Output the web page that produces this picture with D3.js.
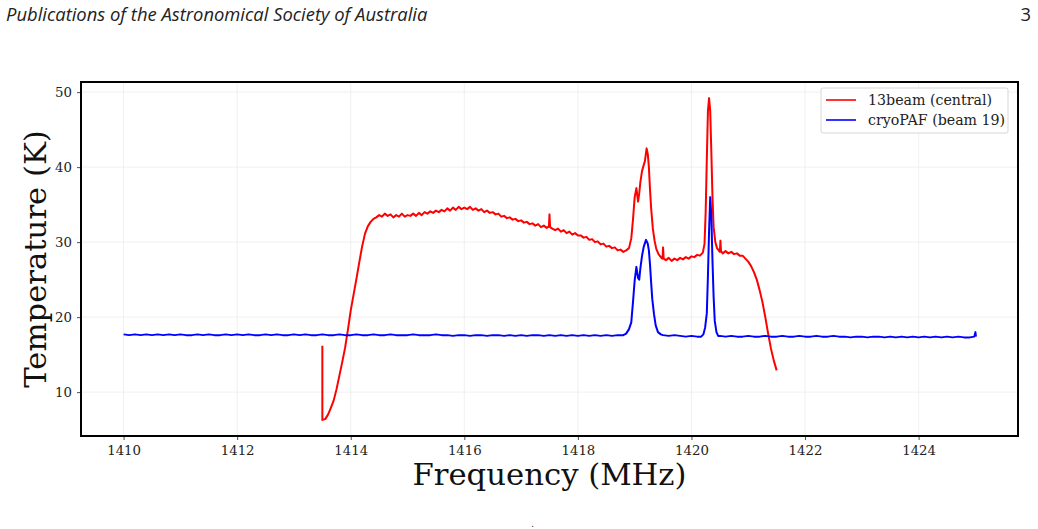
<!doctype html>
<html lang="en">

<head>
    <title>Spectrum - 13beam vs cryoPAF</title>
    <meta charset="utf-8" />
    <script src="https://d3js.org/d3.v7.min.js"></script>
    <style>
        body {
            margin: 0;
            padding: 0;
            background: white;
        }

        svg text {
            font-family: 'DejaVu Serif', serif;
        }

        .header {
            font-family: 'Open Sans', sans-serif !important;
            font-size: 18.4px;
            fill: #222;
        }
    </style>
</head>

<body>
    <div id="chart"></div>

    <script>
        // Ticks del gráfico
        const xTicks = [1410, 1412, 1414, 1416, 1418, 1420, 1422, 1424];
        const yTicks = [10, 20, 30, 40, 50];

        // Serie roja: 13beam (central) [frecuencia MHz, temperatura K]
        const beam13 = [
            [1413.50, 16.2], [1413.50, 6.3], [1413.55, 6.4], [1413.60, 7.0], [1413.65, 7.9],
            [1413.70, 8.9], [1413.75, 10.4], [1413.80, 12.2], [1413.85, 14.0], [1413.90, 15.9],
            [1413.95, 18.3], [1414.00, 20.9], [1414.05, 23.0], [1414.10, 25.1], [1414.15, 27.3],
            [1414.20, 29.4], [1414.25, 31.1], [1414.30, 32.1], [1414.35, 32.7], [1414.40, 33.1],
            [1414.45, 33.3], [1414.50, 33.6], [1414.55, 33.4], [1414.60, 33.8], [1414.65, 33.5],
            [1414.70, 33.7], [1414.75, 33.3], [1414.80, 33.6], [1414.85, 33.4], [1414.90, 33.8],
            [1414.95, 33.4], [1415.00, 33.6], [1415.05, 33.5], [1415.10, 33.8], [1415.15, 33.5],
            [1415.20, 33.9], [1415.25, 33.6], [1415.30, 34.0], [1415.35, 33.8], [1415.40, 34.1],
            [1415.45, 33.9], [1415.50, 34.2], [1415.55, 34.0], [1415.60, 34.3], [1415.65, 34.1],
            [1415.70, 34.5], [1415.75, 34.2], [1415.80, 34.6], [1415.85, 34.3], [1415.90, 34.7],
            [1415.95, 34.4], [1416.00, 34.6], [1416.05, 34.4], [1416.10, 34.7], [1416.15, 34.3],
            [1416.20, 34.5], [1416.25, 34.2], [1416.30, 34.4], [1416.35, 34.0], [1416.40, 34.2],
            [1416.45, 33.9], [1416.50, 34.0], [1416.55, 33.7], [1416.60, 33.8], [1416.65, 33.4],
            [1416.70, 33.5], [1416.75, 33.2], [1416.80, 33.3], [1416.85, 33.0], [1416.90, 33.1],
            [1416.95, 32.8], [1417.00, 32.9], [1417.05, 32.6], [1417.10, 32.7], [1417.15, 32.4],
            [1417.20, 32.5], [1417.25, 32.2], [1417.30, 32.4], [1417.35, 32.0], [1417.40, 32.2],
            [1417.45, 31.9], [1417.49, 32.1], [1417.50, 33.7], [1417.51, 32.0], [1417.55, 31.8],
            [1417.60, 31.6], [1417.65, 31.8], [1417.70, 31.4], [1417.75, 31.6], [1417.80, 31.2],
            [1417.85, 31.4], [1417.90, 31.0], [1417.95, 31.2], [1418.00, 30.9], [1418.05, 30.9],
            [1418.10, 30.6], [1418.15, 30.7], [1418.20, 30.3], [1418.25, 30.4], [1418.30, 30.0],
            [1418.35, 30.1], [1418.40, 29.7], [1418.45, 29.8], [1418.50, 29.4], [1418.55, 29.5],
            [1418.60, 29.2], [1418.65, 29.3], [1418.70, 28.9], [1418.75, 29.0], [1418.80, 28.7],
            [1418.85, 28.9], [1418.90, 29.2], [1418.94, 30.5], [1418.97, 33.0], [1419.00, 36.0],
            [1419.03, 37.2], [1419.06, 35.4], [1419.08, 36.5], [1419.10, 38.0], [1419.13, 39.5],
            [1419.16, 40.3], [1419.18, 40.8], [1419.21, 42.5], [1419.23, 41.8], [1419.25, 40.0],
            [1419.27, 37.0], [1419.29, 34.5], [1419.32, 31.8], [1419.35, 30.2], [1419.38, 29.1],
            [1419.42, 28.4], [1419.46, 28.0], [1419.49, 27.8], [1419.50, 29.3], [1419.51, 27.8],
            [1419.55, 27.6], [1419.60, 27.9], [1419.65, 27.5], [1419.70, 27.8], [1419.75, 27.6],
            [1419.80, 27.9], [1419.85, 27.7], [1419.90, 28.0], [1419.95, 27.8], [1420.00, 28.1],
            [1420.05, 28.0], [1420.10, 28.3], [1420.15, 28.2], [1420.20, 28.6], [1420.23, 29.8],
            [1420.25, 34.0], [1420.27, 41.0], [1420.29, 47.5], [1420.31, 49.2], [1420.33, 47.5],
            [1420.35, 42.0], [1420.37, 36.0], [1420.39, 32.0], [1420.42, 30.0], [1420.45, 29.2],
            [1420.48, 28.9], [1420.50, 28.7], [1420.51, 30.2], [1420.52, 28.8], [1420.55, 28.5],
            [1420.60, 28.8], [1420.65, 28.5], [1420.70, 28.7], [1420.75, 28.4], [1420.80, 28.5],
            [1420.85, 28.2], [1420.90, 28.2], [1420.95, 27.8], [1421.00, 27.4], [1421.05, 26.8],
            [1421.10, 26.0], [1421.15, 25.0], [1421.20, 23.6], [1421.25, 22.0], [1421.30, 20.0],
            [1421.35, 17.8], [1421.40, 15.8], [1421.45, 14.2], [1421.50, 12.9]
        ];

        // Serie azul: cryoPAF (beam 19)
        const cryoPAF = [
            [1410.0, 17.7], [1410.1, 17.6], [1410.2, 17.7], [1410.3, 17.6], [1410.4, 17.7],
            [1410.5, 17.6], [1410.6, 17.7], [1410.7, 17.6], [1410.8, 17.7], [1410.9, 17.6],
            [1411.0, 17.7], [1411.1, 17.6], [1411.2, 17.6], [1411.3, 17.7], [1411.4, 17.6],
            [1411.5, 17.7], [1411.6, 17.6], [1411.7, 17.6], [1411.8, 17.7], [1411.9, 17.6],
            [1412.0, 17.7], [1412.1, 17.6], [1412.2, 17.7], [1412.3, 17.6], [1412.4, 17.6],
            [1412.5, 17.7], [1412.6, 17.6], [1412.7, 17.7], [1412.8, 17.6], [1412.9, 17.6],
            [1413.0, 17.7], [1413.1, 17.6], [1413.2, 17.7], [1413.3, 17.6], [1413.4, 17.6],
            [1413.5, 17.7], [1413.6, 17.6], [1413.7, 17.6], [1413.8, 17.7], [1413.9, 17.6],
            [1414.0, 17.6], [1414.1, 17.7], [1414.2, 17.6], [1414.3, 17.6], [1414.4, 17.7],
            [1414.5, 17.6], [1414.6, 17.6], [1414.7, 17.7], [1414.8, 17.6], [1414.9, 17.6],
            [1415.0, 17.6], [1415.1, 17.7], [1415.2, 17.6], [1415.3, 17.6], [1415.4, 17.6],
            [1415.5, 17.7], [1415.6, 17.6], [1415.7, 17.6], [1415.8, 17.5], [1415.9, 17.6],
            [1416.0, 17.6], [1416.1, 17.5], [1416.2, 17.6], [1416.3, 17.6], [1416.4, 17.5],
            [1416.5, 17.6], [1416.6, 17.6], [1416.7, 17.5], [1416.8, 17.6], [1416.9, 17.5],
            [1417.0, 17.6], [1417.1, 17.5], [1417.2, 17.6], [1417.3, 17.6], [1417.4, 17.5],
            [1417.5, 17.6], [1417.6, 17.5], [1417.7, 17.6], [1417.8, 17.5], [1417.9, 17.6],
            [1418.0, 17.5], [1418.1, 17.6], [1418.2, 17.5], [1418.3, 17.6], [1418.4, 17.5],
            [1418.5, 17.6], [1418.6, 17.5], [1418.7, 17.6], [1418.8, 17.6], [1418.85, 17.8],
            [1418.90, 18.4], [1418.94, 19.3], [1418.97, 22.0], [1419.00, 24.9], [1419.03, 26.7],
            [1419.06, 25.2], [1419.08, 25.0], [1419.10, 26.5], [1419.13, 28.2], [1419.16, 29.4],
            [1419.20, 30.3], [1419.23, 29.8], [1419.25, 28.9], [1419.27, 27.0], [1419.29, 24.6],
            [1419.31, 22.4], [1419.34, 20.4], [1419.37, 18.9], [1419.41, 18.0], [1419.46, 17.7],
            [1419.5, 17.6], [1419.6, 17.5], [1419.7, 17.6], [1419.8, 17.5], [1419.9, 17.4],
            [1420.0, 17.5], [1420.1, 17.4], [1420.17, 17.4], [1420.21, 17.7], [1420.24, 18.6],
            [1420.27, 20.5], [1420.29, 25.5], [1420.31, 31.5], [1420.33, 36.0], [1420.35, 33.5],
            [1420.37, 27.5], [1420.39, 22.7], [1420.41, 19.5], [1420.44, 18.0], [1420.47, 17.5],
            [1420.5, 17.5], [1420.6, 17.4], [1420.7, 17.5], [1420.8, 17.4], [1420.9, 17.4],
            [1421.0, 17.5], [1421.1, 17.4], [1421.2, 17.4], [1421.3, 17.5], [1421.4, 17.4],
            [1421.5, 17.4], [1421.6, 17.5], [1421.7, 17.4], [1421.8, 17.4], [1421.9, 17.5],
            [1422.0, 17.4], [1422.1, 17.4], [1422.2, 17.5], [1422.3, 17.4], [1422.4, 17.4],
            [1422.5, 17.5], [1422.6, 17.4], [1422.7, 17.4], [1422.8, 17.3], [1422.9, 17.4],
            [1423.0, 17.4], [1423.1, 17.3], [1423.2, 17.4], [1423.3, 17.4], [1423.4, 17.3],
            [1423.5, 17.4], [1423.6, 17.3], [1423.7, 17.4], [1423.8, 17.3], [1423.9, 17.4],
            [1424.0, 17.3], [1424.1, 17.4], [1424.2, 17.3], [1424.3, 17.4], [1424.4, 17.3],
            [1424.5, 17.4], [1424.6, 17.3], [1424.7, 17.4], [1424.8, 17.3], [1424.9, 17.3],
            [1424.98, 17.4], [1425.0, 18.0], [1425.01, 17.4]
        ];

        const series = [
            { name: '13beam (central)', color: '#ff0000', data: beam13 },
            { name: 'cryoPAF (beam 19)', color: '#0000ff', data: cryoPAF }
        ];

        const width = 1038, height = 529;
        const margin = { top: 82, right: 20, bottom: 93, left: 81 };
        const plotW = width - margin.left - margin.right;
        const plotH = height - margin.top - margin.bottom;

        const svg = d3.select('#chart')
            .append('svg')
            .attr('width', width)
            .attr('height', height);

        // Encabezado de la página
        svg.append('text')
            .attr('class', 'header')
            .attr('x', 6)
            .attr('y', 21)
            .style('font-style', 'italic')
            .text('Publications of the Astronomical Society of Australia');

        svg.append('text')
            .attr('class', 'header')
            .attr('x', 1031)
            .attr('y', 21)
            .attr('text-anchor', 'end')
            .text('3');

        const g = svg.append('g')
            .attr('transform', `translate(${margin.left},${margin.top})`);

        // Escalas
        const x = d3.scaleLinear().domain([1409.25, 1425.75]).range([0, plotW]);
        const y = d3.scaleLinear().domain([4.15, 51.35]).range([plotH, 0]);

        // Rejilla
        g.append('g')
            .selectAll('line')
            .data(xTicks)
            .join('line')
            .attr('x1', d => x(d)).attr('x2', d => x(d))
            .attr('y1', 0).attr('y2', plotH)
            .attr('stroke', '#ececec')
            .attr('stroke-width', 0.8);

        g.append('g')
            .selectAll('line')
            .data(yTicks)
            .join('line')
            .attr('y1', d => y(d)).attr('y2', d => y(d))
            .attr('x1', 0).attr('x2', plotW)
            .attr('stroke', '#ececec')
            .attr('stroke-width', 0.8);

        // Líneas de datos
        const line = d3.line()
            .x(d => x(d[0]))
            .y(d => y(d[1]));

        g.append('defs').append('clipPath')
            .attr('id', 'clip')
            .append('rect')
            .attr('width', plotW)
            .attr('height', plotH);

        g.append('g')
            .attr('clip-path', 'url(#clip)')
            .selectAll('path')
            .data(series)
            .join('path')
            .attr('d', d => line(d.data))
            .attr('fill', 'none')
            .attr('stroke', d => d.color)
            .attr('stroke-width', 2)
            .attr('stroke-linejoin', 'round');

        // Ejes
        const xAxis = g.append('g')
            .attr('transform', `translate(0,${plotH})`)
            .call(d3.axisBottom(x).tickValues(xTicks).tickFormat(d3.format('d')).tickSize(4).tickPadding(6));

        const yAxis = g.append('g')
            .call(d3.axisLeft(y).tickValues(yTicks).tickSize(4).tickPadding(5));

        [xAxis, yAxis].forEach(ax => {
            ax.select('.domain').remove();
            ax.selectAll('text')
                .style('font-family', "'DejaVu Serif', serif")
                .style('font-size', '13.3px')
                .attr('fill', '#222');
            ax.selectAll('line').attr('stroke', '#222').attr('stroke-width', 0.8);
        });

        // Marco
        g.append('rect')
            .attr('width', plotW)
            .attr('height', plotH)
            .attr('fill', 'none')
            .attr('stroke', '#000')
            .attr('stroke-width', 2);

        // Títulos de ejes
        svg.append('text')
            .attr('x', margin.left + plotW / 2)
            .attr('y', 485)
            .attr('text-anchor', 'middle')
            .style('font-size', '30.7px')
            .attr('fill', '#111')
            .text('Frequency (MHz)');

        svg.append('text')
            .attr('transform', `translate(46,${margin.top + plotH / 2}) rotate(-90)`)
            .attr('text-anchor', 'middle')
            .style('font-size', '30.7px')
            .attr('fill', '#111')
            .text('Temperature (K)');

        // Leyenda
        const legend = svg.append('g')
            .attr('transform', 'translate(821,88)');

        legend.append('rect')
            .attr('width', 187)
            .attr('height', 45)
            .attr('rx', 2)
            .attr('fill', 'white')
            .attr('fill-opacity', 0.8)
            .attr('stroke', '#d6d6d6');

        const items = legend.selectAll('g.item')
            .data(series)
            .join('g')
            .attr('class', 'item')
            .attr('transform', (d, i) => `translate(0,${12 + i * 20})`);

        items.append('line')
            .attr('x1', 5).attr('x2', 35)
            .attr('stroke', d => d.color)
            .attr('stroke-width', 1.6);

        items.append('text')
            .attr('x', 47)
            .attr('dy', '0.35em')
            .style('font-size', '14.2px')
            .attr('fill', '#222')
            .text(d => d.name);

        // Punto suelto al pie de la página
        svg.append('text')
            .attr('x', 531)
            .attr('y', 527)
            .style('font-size', '10px')
            .attr('fill', '#444')
            .text('.');
    </script>
</body>

</html>
